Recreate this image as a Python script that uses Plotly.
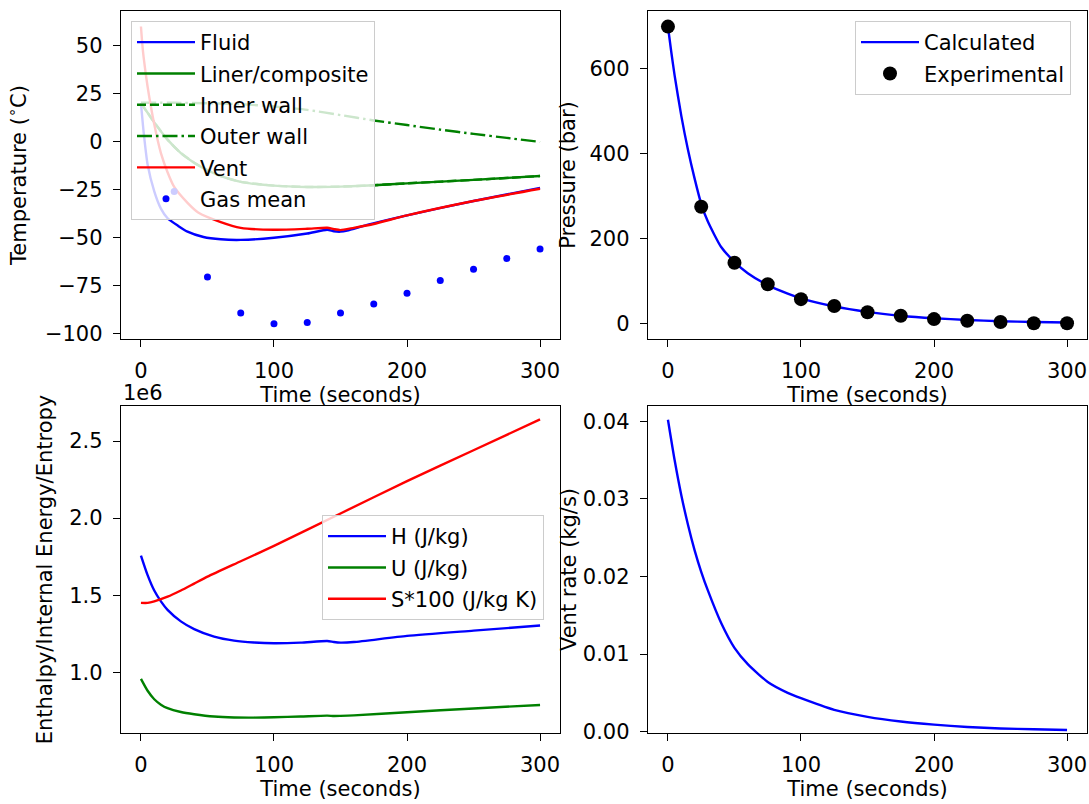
import plotly.graph_objects as go

# ---------------- data ----------------
# Top-left: temperatures (deg C)
t_fluid = [0, 2, 5, 10, 15, 20, 28, 35, 47, 60, 75, 100, 125, 140, 145, 150, 155, 170, 200, 250, 300]
fluid = [20, 5, -12, -26, -35, -40, -44, -47, -49.8, -51, -51.3, -50.2, -48, -46, -46.8, -47, -46.5, -43.5, -38.5, -31, -24.2]

t_liner = [0, 5, 10, 20, 30, 40, 50, 60, 75, 100, 125, 150, 175, 200, 250, 300]
liner = [20, 15, 10, 1, -6, -11, -15, -18, -21, -23, -23.7, -23.5, -22.8, -21.8, -20, -18]
inner_wall = [20, 15, 10, 1, -6, -11, -15, -18, -21, -23, -23.7, -23.5, -22.8, -21.8, -20, -18]

t_outer = [0, 25, 50, 75, 100, 125, 150, 175, 200, 225, 250, 275, 300]
outer_wall = [20.2, 20.2, 20, 19.5, 18.3, 16.5, 13.8, 11, 8.6, 6.2, 4, 1.9, -0.2]

t_vent = [0, 1, 2, 5, 10, 15, 20, 25, 35, 43, 60, 75, 100, 125, 140, 145, 150, 160, 175, 200, 250, 300]
vent = [60, 51, 44, 28.6, 9, -6, -16, -23.7, -32, -37, -42, -45, -46, -45.5, -45, -45.7, -46.2, -45, -43, -38.5, -31, -24.6]

t_gas = [25, 50, 75, 100, 125, 150, 175, 200, 225, 250, 275, 300]
gas_mean = [-26, -70.7, -89.5, -95.1, -94.4, -89.5, -84.7, -79.1, -72.5, -66.6, -61, -56]

# Top-right: pressure (bar)
t_p_calc = [0, 2.5, 5, 10, 15, 20, 25, 30, 40, 50, 60, 75, 90, 100, 125, 150, 175, 200, 225, 250, 275, 300]
p_calc = [700, 640, 585, 490, 410, 342, 282, 240, 180, 145, 118, 90, 70, 59, 40, 27, 18, 12, 8, 5, 3, 2]
t_p_exp = [0, 25, 50, 75, 100, 125, 150, 175, 200, 225, 250, 275, 300]
p_exp = [700, 275, 143, 92, 57, 41, 26, 18, 10, 6, 3, 0, 0]

# Bottom-left: H, U, S*100
t_hu = [0, 5, 10, 15, 20, 30, 40, 55, 70, 85, 100, 120, 140, 145, 150, 160, 200, 250, 300]
H = [1.757e6, 1.63e6, 1.53e6, 1.46e6, 1.405e6, 1.33e6, 1.28e6, 1.231e6, 1.205e6, 1.193e6, 1.188e6,
     1.192e6, 1.203e6, 1.196e6, 1.192e6, 1.196e6, 1.236e6, 1.27e6, 1.303e6]
U = [0.957e6, 0.88e6, 0.825e6, 0.79e6, 0.767e6, 0.742e6, 0.728e6, 0.713e6, 0.707e6, 0.706e6, 0.708e6,
     0.713e6, 0.719e6, 0.716e6, 0.717e6, 0.72e6, 0.741e6, 0.765e6, 0.788e6]
t_s = [0, 5, 10, 20, 30, 40, 50, 75, 100, 150, 200, 250, 300]
S100 = [1.45e6, 1.45e6, 1.46e6, 1.49e6, 1.53e6, 1.575e6, 1.62e6, 1.72e6, 1.82e6, 2.03e6, 2.24e6, 2.44e6, 2.64e6]

# Bottom-right: vent rate (kg/s)
t_rate = [0, 5, 10, 15, 20, 25, 30, 40, 50, 60, 75, 90, 100, 125, 150, 175, 200, 225, 250, 275, 300]
vent_rate = [0.0402, 0.0350, 0.0305, 0.0267, 0.0234, 0.0206, 0.0182, 0.0140, 0.0108, 0.0087, 0.0064,
             0.0050, 0.0043, 0.0028, 0.0019, 0.0013, 0.0009, 0.0006, 0.0004, 0.0003, 0.0002]

x_ticks = [0, 100, 200, 300]
temp_ticks = [-100, -75, -50, -25, 0, 25, 50]
p_ticks = [0, 200, 400, 600]
e_ticks = [1.0e6, 1.5e6, 2.0e6, 2.5e6]
e_ticktext = ["1.0", "1.5", "2.0", "2.5"]
r_ticks = [0.0, 0.01, 0.02, 0.03, 0.04]
r_ticktext = ["0.00", "0.01", "0.02", "0.03", "0.04"]

# ---------------- figure ----------------
W, H_px = 1089, 804
FONT = "DejaVu Sans"
FS = 21
BLUE, GREEN, RED = "#0000ff", "#008000", "#ff0000"
LW = 2.4
SM = 0.6

fig = go.Figure()


def line_trace(x, y, name, color, xa, ya, lg, dash=None, grp=None, show=True):
    return go.Scatter(x=x, y=y, mode="lines", name=name,
                      line=dict(color=color, width=LW, dash=dash, shape="spline", smoothing=SM),
                      xaxis=xa, yaxis=ya, legend=lg, legendgroup=grp, showlegend=show)


# top-left
fig.add_trace(line_trace(t_fluid, fluid, "Fluid", BLUE, "x", "y", "legend", grp="a1"))
fig.add_trace(line_trace(t_liner, liner, "Liner/composite", GREEN, "x", "y", "legend", grp="a2"))
fig.add_trace(line_trace(t_liner, inner_wall, "Inner wall", GREEN, "x", "y", "legend", dash="9px,4px", grp="a3"))
fig.add_trace(line_trace(t_outer, outer_wall, "Outer wall", GREEN, "x", "y", "legend",
                         dash="15px,4px,2.5px,4px", grp="a4"))
fig.add_trace(line_trace(t_vent, vent, "Vent", RED, "x", "y", "legend", grp="a5"))
fig.add_trace(go.Scatter(x=t_gas, y=gas_mean, mode="markers", name="Gas mean",
                         marker=dict(color=BLUE, size=7), xaxis="x", yaxis="y", legend="legend",
                         legendgroup="a6"))

# top-right
fig.add_trace(line_trace(t_p_calc, p_calc, "Calculated", BLUE, "x2", "y2", "legend2", grp="b1"))
fig.add_trace(go.Scatter(x=t_p_exp, y=p_exp, mode="markers", name="Experimental",
                         marker=dict(color="black", size=14), xaxis="x2", yaxis="y2", legend="legend2",
                         legendgroup="b2"))

# bottom-left
fig.add_trace(line_trace(t_hu, H, "H (J/kg)", BLUE, "x3", "y3", "legend3", grp="c1"))
fig.add_trace(line_trace(t_hu, U, "U (J/kg)", GREEN, "x3", "y3", "legend3", grp="c2"))
fig.add_trace(line_trace(t_s, S100, "S*100 (J/kg K)", RED, "x3", "y3", "legend3", grp="c3"))

# bottom-right
fig.add_trace(line_trace(t_rate, vent_rate, "Vent rate", BLUE, "x4", "y4", "legend", show=False))


def px_x(p):
    return p / W


def px_y(p):
    return 1 - p / H_px


xl = [px_x(121), px_x(560)]
xr = [px_x(648), px_x(1087)]
yt = [px_y(339), px_y(11)]
yb = [px_y(733), px_y(406)]

common = dict(showline=True, linecolor="black", linewidth=1.4, mirror=True, ticks="outside",
              ticklen=7, tickwidth=1.4, tickcolor="black", showgrid=False, zeroline=False,
              automargin=False, tickfont=dict(family=FONT, size=FS, color="black"),
              ticklabelstandoff=6)


def xax(domain, anchor):
    return dict(common, domain=domain, anchor=anchor, range=[-15, 315], tickmode="array",
                tickvals=x_ticks, ticktext=[str(v) for v in x_ticks],
                title=dict(text="Time (seconds)", font=dict(family=FONT, size=FS, color="black"), standoff=4))


def yax(domain, anchor, rng, tv, tt, title, standoff):
    return dict(common, domain=domain, anchor=anchor, range=rng, tickmode="array", tickvals=tv, ticktext=tt,
                title=dict(text=title, font=dict(family=FONT, size=FS, color="black"), standoff=standoff))


temp_text = [str(v).replace("-", "\u2212") for v in temp_ticks]

legend_common = dict(bgcolor="rgba(255,255,255,0.8)", bordercolor="#cccccc", borderwidth=1,
                     font=dict(family=FONT, size=FS, color="black"), xanchor="left", yanchor="top",
                     xref="paper", yref="paper", traceorder="grouped", tracegroupgap=1, itemwidth=58)

fig.update_layout(
    width=W, height=H_px,
    margin=dict(l=0, r=0, t=0, b=0),
    paper_bgcolor="white", plot_bgcolor="white",
    font=dict(family=FONT, size=FS, color="black"),
    xaxis=xax(xl, "y"),
    yaxis=yax(yt, "x", [-103, 68.1], temp_ticks, temp_text, "Temperature (<sup>\u2218</sup>C)", 12),
    xaxis2=xax(xr, "y2"),
    yaxis2=yax(yt, "x2", [-37, 736.8], p_ticks, [str(v) for v in p_ticks], "Pressure (bar)", 8),
    xaxis3=xax(xl, "y3"),
    yaxis3=yax(yb, "x3", [0.606e6, 2.727e6], e_ticks, e_ticktext, "Enthalpy/Internal Energy/Entropy", 10),
    xaxis4=xax(xr, "y4"),
    yaxis4=yax(yb, "x4", [-0.00018, 0.04197], r_ticks, r_ticktext, "Vent rate (kg/s)", 0),
    legend=dict(legend_common, x=px_x(131), y=px_y(21)),
    legend2=dict(legend_common, x=px_x(855), y=px_y(21)),
    legend3=dict(legend_common, x=px_x(322), y=px_y(515)),
    showlegend=True,
    annotations=[dict(text="1e6", xref="paper", yref="paper", x=px_x(121), y=px_y(407),
                      xanchor="left", yanchor="bottom", showarrow=False,
                      font=dict(family=FONT, size=FS, color="black"))],
)

fig.write_html("out.html")
